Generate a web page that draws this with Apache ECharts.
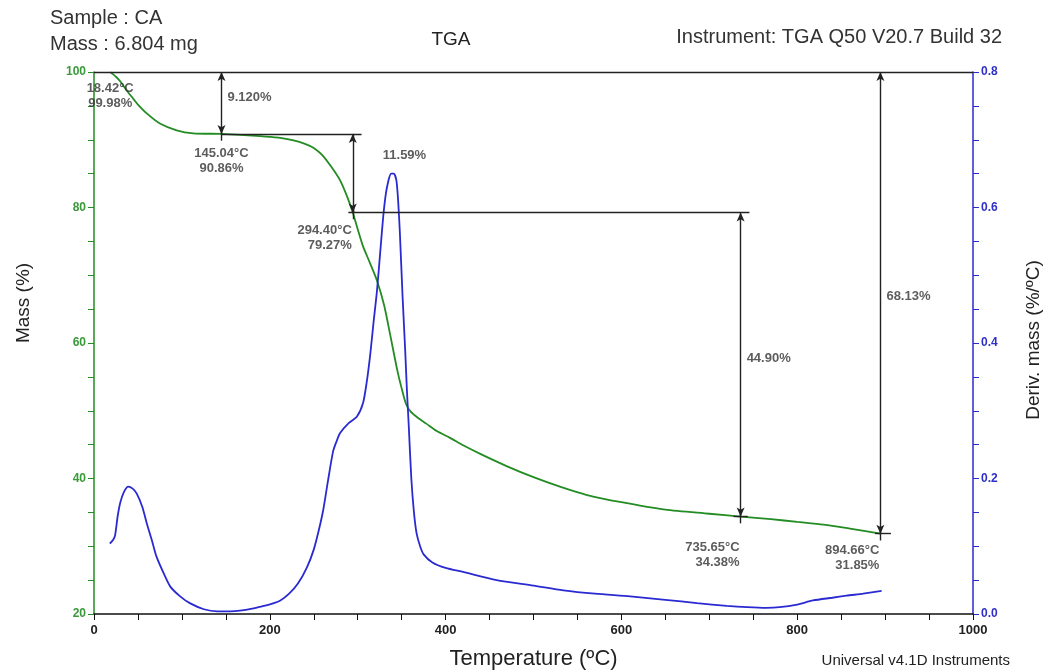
<!DOCTYPE html>
<html>
<head>
<meta charset="utf-8">
<title>TGA</title>
<script src="https://cdn.jsdelivr.net/npm/echarts/dist/echarts.min.js"></script>
<style>
  html, body { margin: 0; padding: 0; background: #fff; }
  #chart { width: 1045px; height: 670px; }
</style>
</head>
<body>
<div id="chart"></div>
<script>
// 质量曲线 (温度 °C, 质量 %)
const massCurve = [
  [18.4, 99.98], [25, 99.3], [30, 98.6], [37, 97.3], [45, 96.0], [50, 95.2], [60, 93.9],
  [75, 92.4], [94, 91.4], [113, 90.95], [145, 90.86], [189, 90.55], [210, 90.3], [227, 89.9],
  [240, 89.4], [250, 88.8], [260, 87.7], [270, 86.0], [280, 84.0], [288, 81.6], [294.4, 79.27],
  [300, 76.8], [306, 74.3], [314, 71.8], [322, 69.2], [330, 65.6], [337, 61.2], [345, 56.0],
  [350, 53.3], [355, 51.0], [360, 49.9], [368, 49.0], [378, 48.1], [390, 47.0], [405, 46.0],
  [420, 44.9], [440, 43.6], [470, 41.8], [500, 40.2], [530, 38.8], [560, 37.6], [600, 36.5],
  [650, 35.4], [700, 34.8], [735.65, 34.38], [770, 34.0], [800, 33.6], [830, 33.2],
  [860, 32.6], [894.66, 31.85]
];

// 微分曲线 (温度 °C, %/°C)
const derivCurve = [
  [18, 0.104], [22, 0.110], [24, 0.116], [27, 0.145], [30, 0.165], [34, 0.180], [39, 0.188],
  [44, 0.185], [48.5, 0.178], [55, 0.158], [60, 0.134], [66, 0.108], [71, 0.085], [80, 0.058],
  [87, 0.040], [98, 0.026], [109, 0.016], [125, 0.007], [140, 0.004], [155, 0.004], [166, 0.005],
  [180, 0.008], [193, 0.012], [202, 0.015], [212, 0.020], [222, 0.030], [232, 0.045], [242, 0.068],
  [250, 0.095], [256, 0.125], [261, 0.155], [266, 0.195], [272, 0.240], [276, 0.255], [280, 0.267],
  [290, 0.282], [299, 0.291], [306, 0.311], [310, 0.340], [314, 0.380], [318, 0.430], [322, 0.478],
  [326, 0.540], [329, 0.586], [332, 0.620], [335, 0.640], [338, 0.650], [341, 0.650], [344, 0.640],
  [346, 0.610], [348, 0.562], [351, 0.470], [354, 0.390], [356, 0.330], [358, 0.280], [361, 0.200],
  [364, 0.150], [367, 0.119], [371, 0.100], [375, 0.088], [385, 0.076], [400, 0.068], [420, 0.062],
  [458, 0.050], [500, 0.042], [534, 0.035], [570, 0.030], [610, 0.026], [650, 0.021], [686, 0.016],
  [720, 0.012], [743, 0.010], [765, 0.009], [780, 0.010], [800, 0.014], [818, 0.020], [840, 0.024],
  [856, 0.027], [875, 0.030], [896, 0.034]
];

// 分析点
const stepTemp = [18.42, 145.04, 294.40, 735.65, 894.66];
const stepMass = [99.98, 90.86, 79.27, 34.38, 31.85];
const lossText = ['9.120%', '11.59%', '44.90%', '68.13%'];

// 坐标轴刻度
const tempTicks = [0, 200, 400, 600, 800, 1000];
const massTicks = [20, 40, 60, 80, 100];
const derivTicks = [0.0, 0.2, 0.4, 0.6, 0.8];

const GREEN = '#238c23';
const BLUE = '#2a2ad2';
const INK = '#222';
const FONT = 'Liberation Sans, Arial, sans-serif';

// 失重箭头: [温度, 起点质量, 终点质量]
const lossArrows = [
  [stepTemp[1], 100, stepMass[1]],
  [stepTemp[2], stepMass[1], stepMass[2]],
  [stepTemp[3], stepMass[2], stepMass[3]],
  [stepTemp[4], 100, stepMass[4]]
];

function seg(a, b, arrows) {
  return [
    { coord: a, symbol: arrows ? 'arrow' : 'none', symbolSize: [6, 9] },
    { coord: b, symbol: arrows ? 'arrow' : 'none', symbolSize: [6, 9] }
  ];
}

const markLines = [
  seg([tempTicks[0], 100], [tempTicks[tempTicks.length - 1], 100], false),
  seg([stepTemp[1], stepMass[1]], [stepTemp[2] + 10, stepMass[1]], false),
  seg([stepTemp[2] - 5, stepMass[2]], [stepTemp[3] + 10, stepMass[2]], false),
  seg([stepTemp[3] - 8, stepMass[3]], [stepTemp[3] + 8, stepMass[3]], false),
  seg([stepTemp[4] - 6, stepMass[4]], [stepTemp[4] + 12, stepMass[4]], false)
];
lossArrows.forEach(a => markLines.push(seg([a[0], a[1]], [a[0], a[2]], true)));
// 小十字
stepTemp.forEach((t, i) => markLines.push(seg([t, stepMass[i] + 1], [t, stepMass[i] - 1], false)));

// 标签排版 [对齐, 下移 px]
const stepLabelPos = [['center', 9], ['center', 12], ['right', 10], ['right', 23], ['right', 9]];
const stepLabels = stepTemp.map((t, i) => ({
  value: [t, stepMass[i]],
  label: {
    formatter: t.toFixed(2) + '°C\n' + stepMass[i].toFixed(2) + '%',
    position: 'bottom',
    align: stepLabelPos[i][0],
    distance: stepLabelPos[i][1],
    offset: stepLabelPos[i][0] === 'right' ? [-1, 0] : [0, 0]
  }
}));

const lossLabelOffset = [[0, -6], [24, -18], [0, -6], [0, -6]];
const lossLabels = lossArrows.map((a, i) => ({
  value: [a[0], (a[1] + a[2]) / 2],
  label: { formatter: lossText[i], position: 'right', distance: 6, offset: lossLabelOffset[i] }
}));

const chart = echarts.init(document.getElementById('chart'), null, { renderer: 'canvas' });

const option = {
  backgroundColor: '#ffffff',
  animation: false,
  textStyle: { fontFamily: FONT },
  grid: { left: 94, right: 72, top: 72, bottom: 56, containLabel: false, outerBoundsMode: 'none' },
  graphic: [
    { type: 'text', left: 50, top: 8, style: { text: 'Sample : CA', fontSize: 20, fill: '#333', fontFamily: FONT } },
    { type: 'text', left: 50, top: 34, style: { text: 'Mass : 6.804 mg', fontSize: 20, fill: '#333', fontFamily: FONT } },
    { type: 'text', x: 451, y: 40, style: { text: 'TGA', fontSize: 19, fill: '#222', align: 'center', verticalAlign: 'middle', fontFamily: FONT } },
    { type: 'text', x: 1002, y: 37, style: { text: 'Instrument: TGA Q50 V20.7 Build 32', fontSize: 20, fill: '#333', align: 'right', verticalAlign: 'middle', fontFamily: FONT } },
    { type: 'text', x: 24, y: 303, rotation: Math.PI / 2, style: { text: 'Mass (%)', fontSize: 19, fill: '#222', align: 'center', verticalAlign: 'middle', fontFamily: FONT } },
    { type: 'text', x: 1034, y: 340, rotation: Math.PI / 2, style: { text: 'Deriv. mass (%/ºC)', fontSize: 19, fill: '#222', align: 'center', verticalAlign: 'middle', fontFamily: FONT } },
    { type: 'text', x: 1010, y: 661, style: { text: 'Universal v4.1D Instruments', fontSize: 15, fill: '#222', align: 'right', verticalAlign: 'middle', fontFamily: FONT } }
  ],
  xAxis: {
    type: 'value',
    min: tempTicks[0],
    max: tempTicks[tempTicks.length - 1],
    interval: tempTicks[1] - tempTicks[0],
    name: 'Temperature (ºC)',
    nameLocation: 'middle',
    nameGap: 34,
    nameTextStyle: { fontSize: 22, color: '#222', fontFamily: FONT },
    splitLine: { show: false },
    axisLine: { onZero: false, lineStyle: { color: '#111', width: 1.5 } },
    axisTick: { length: 6, lineStyle: { color: '#111' } },
    minorTick: { show: true, splitNumber: 4, length: 6, lineStyle: { color: '#111' } },
    axisLabel: { color: '#222', fontSize: 13, fontWeight: 'bold', margin: 10,
      formatter: v => String(v) }
  },
  yAxis: [
    {
      type: 'value',
      position: 'left',
      min: massTicks[0],
      max: massTicks[massTicks.length - 1],
      interval: massTicks[1] - massTicks[0],
      splitLine: { show: false },
      axisLine: { show: true, onZero: false, lineStyle: { color: GREEN, width: 1.5 } },
      axisTick: { show: true, length: 6, lineStyle: { color: GREEN } },
      minorTick: { show: true, splitNumber: 4, length: 6, lineStyle: { color: GREEN } },
      axisLabel: { color: '#3a9a3a', fontSize: 12, fontWeight: 'bold', margin: 8 }
    },
    {
      type: 'value',
      position: 'right',
      min: derivTicks[0],
      max: derivTicks[derivTicks.length - 1],
      interval: derivTicks[1] - derivTicks[0],
      splitLine: { show: false },
      axisLine: { show: true, onZero: false, lineStyle: { color: BLUE, width: 1.5 } },
      axisTick: { show: true, length: 6, lineStyle: { color: BLUE } },
      minorTick: { show: true, splitNumber: 4, length: 6, lineStyle: { color: BLUE } },
      axisLabel: { color: '#3030c8', fontSize: 12, fontWeight: 'bold', margin: 8,
        formatter: v => v.toFixed(1) }
    }
  ],
  series: [
    {
      name: 'Mass',
      type: 'line',
      yAxisIndex: 0,
      data: massCurve,
      showSymbol: false,
      smooth: 0.25,
      lineStyle: { color: GREEN, width: 1.8 },
      z: 3,
      markLine: {
        silent: true,
        animation: false,
        label: { show: false },
        lineStyle: { color: INK, width: 1.4, type: 'solid' },
        emphasis: { disabled: true },
        data: markLines
      }
    },
    {
      name: 'Deriv',
      type: 'line',
      yAxisIndex: 1,
      data: derivCurve,
      showSymbol: false,
      smooth: 0.25,
      lineStyle: { color: BLUE, width: 1.8 },
      z: 4
    },
    {
      name: 'labels',
      type: 'scatter',
      yAxisIndex: 0,
      symbolSize: 0,
      silent: true,
      z: 6,
      label: {
        show: true,
        color: '#333',
        fontSize: 13,
        fontWeight: 'bold',
        lineHeight: 15,
        fontFamily: FONT
      },
      data: stepLabels.concat(lossLabels)
    }
  ]
};

chart.setOption(option);
window.addEventListener('resize', () => chart.resize());
</script>
</body>
</html>
